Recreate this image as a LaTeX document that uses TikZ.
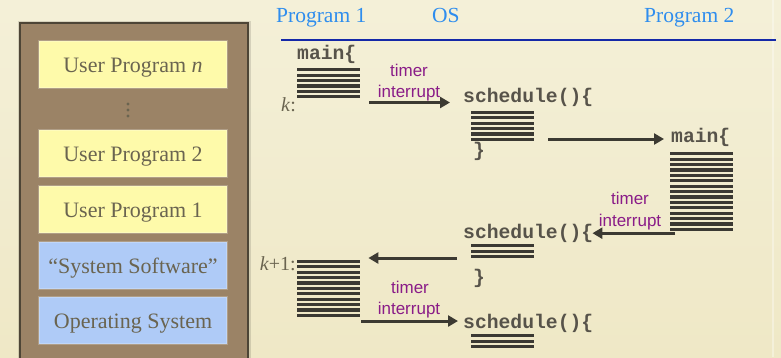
\documentclass[tikz,border=0pt]{standalone}
\usepackage{fontspec}
\setmainfont{Liberation Serif}
\setsansfont{Liberation Sans}
\setmonofont{Liberation Mono}
\usetikzlibrary{arrows.meta}

\definecolor{bgtop}{HTML}{F4F0D8}
\definecolor{bgbot}{HTML}{EFE8C6}
\definecolor{panelfill}{HTML}{9B8366}
\definecolor{paneledge}{HTML}{4D4536}
\definecolor{userfill}{HTML}{FEFAAA}
\definecolor{sysfill}{HTML}{AFCBF7}
\definecolor{boxtext}{HTML}{6A6450}
\definecolor{hdrblue}{HTML}{2E8DEE}
\definecolor{rulenavy}{HTML}{1428A8}
\definecolor{irqpurple}{HTML}{8A1C88}
\definecolor{codegrey}{HTML}{57534A}
\definecolor{stripec}{HTML}{3B3933}
\definecolor{arrowc}{HTML}{3C3A32}

\tikzset{
  layer/.style={minimum width=188pt, minimum height=47pt, inner sep=0pt,
    text height=16.5pt, text depth=0pt,
    text=boxtext, font=\fontsize{22}{25}\selectfont,
    draw=white, draw opacity=0.22, line width=2.5pt},
  userbox/.style={layer, fill=userfill},
  sysbox/.style={layer, fill=sysfill},
  hdr/.style={anchor=base west, inner sep=0pt, text=hdrblue,
    font=\fontsize{21.5}{24}\selectfont},
  code/.style={anchor=base west, inner sep=0pt, text=codegrey,
    font=\fontsize{19.7}{22}\ttfamily\bfseries},
  irq/.style={anchor=base, inner sep=0pt, text=irqpurple,
    font=\fontsize{17}{20}\sffamily},
  steplbl/.style={inner sep=0pt, text=boxtext, font=\fontsize{20}{23}\selectfont},
  stripes/.style={anchor=north west, inner sep=0pt, minimum width=63pt,
    minimum height=#1*5.4pt-2.2pt,
    path picture={
      \foreach \i in {1,...,#1}{
        \fill[stripec] ([yshift=-(\i-1)*5.4pt]path picture bounding box.north west)
          rectangle ++(63pt,-3.2pt);
      }
    }},
  arr/.style={draw=arrowc, line width=3pt, -{Triangle[length=10pt,width=11pt]}}
}

\begin{document}
\begin{tikzpicture}[x=1pt,y=-1pt]
\useasboundingbox (0,0) rectangle (781,357);
\clip (0,0) rectangle (781,357);

% paper background
\shade[top color=bgtop, bottom color=bgbot] (0,0) rectangle (781,357);
\fill[white, opacity=0.35] (772,0) rectangle (774,357);

% layered system stack
\fill[black, opacity=0.12] (18,21) rectangle (251,362);
\draw[fill=panelfill, draw=paneledge, line width=2pt] (20,23) rectangle (248,362);
\node[userbox] (upn) at (133,64.5)  {User Program \textit{n}};
\foreach \y in {104,110,116} \fill[boxtext] (128,\y) circle (1.6);
\node[userbox] (up2) at (133,153.5) {User Program 2};
\node[userbox] (up1) at (133,209.5) {User Program 1};
\node[sysbox]  (sys) at (133,265.5) {“System Software”};
\node[sysbox]  (kern) at (133,320.5) {Operating System};

% column headings
\node[hdr] (p1) at (276,22) {Program 1};
\node[hdr] (os) at (432,22) {OS};
\node[hdr] (p2) at (644,22) {Program 2};
\draw[rulenavy, line width=2.5pt] (281,40) -- (776,40);

% program 1 runs
\node[code] (m1) at (297,59) {main\{};
\node[stripes=6] (b1) at (297,68) {};
\node[steplbl, anchor=base west] (k) at (281,111) {\textit{k}:};

% first timer interrupt into the scheduler
\node[code] (s1) at (463,102.5) {schedule()\{};
\node[stripes=6] (b2) at (471,110.5) {};
\node[code] (c1) at (473,156) {\}};
\node[irq] (t1a) at (409,76) {timer};
\node[irq] (t1b) at (409,97) {interrupt};
\draw[arr] ([xshift=9pt]b1.east |- s1.base) -- ([xshift=-13pt]s1.base west);

% program 2 runs
\node[code] (m2) at (671,142) {main\{};
\node[stripes=15] (b3) at (670,152) {};
\draw[arr] ([shift={(14pt,3pt)}]b2.east |- m2.base) -- ([shift={(-7pt,3pt)}]m2.base west);

% second timer interrupt
\node[code] (s2) at (463,238.5) {schedule()\{};
\node[stripes=3] (b4) at (471,244) {};
\node[code] (c2) at (473,283) {\}};
\node[irq] (t2a) at (630,204) {timer};
\node[irq] (t2b) at (630,226) {interrupt};
\draw[arr] ([shift={(5pt,-2pt)}]b3.south west) -- ([shift={(-1pt,-2pt)}]s2.base east |- b3.south west);

% program 1 resumes
\node[steplbl, anchor=base east] (k1) at (296,270) {\textit{k}+1:};
\node[stripes=11] (b5) at (297,259.5) {};
\draw[arr] ([shift={(-6pt,1.5pt)}]s2.base west |- b5.north) -- ([shift={(8pt,1.5pt)}]b5.north east);

% third timer interrupt
\node[code] (s3) at (463,328) {schedule()\{};
\node[stripes=3] (b6) at (471,334) {};
\node[irq] (t3a) at (410,293) {timer};
\node[irq] (t3b) at (409,314) {interrupt};
\draw[arr] ([shift={(1pt,7pt)}]b5.east |- s3.base) -- ([shift={(-5pt,7pt)}]s3.base west);
\end{tikzpicture}
\end{document}
